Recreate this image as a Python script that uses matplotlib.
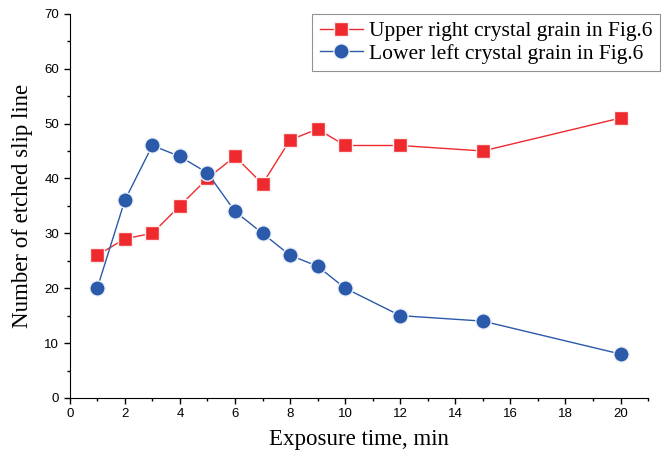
import matplotlib.pyplot as plt
from matplotlib.ticker import MultipleLocator

# exposure time (min)
tiempo = [1, 2, 3, 4, 5, 6, 7, 8, 9, 10, 12, 15, 20]
superior = [26, 29, 30, 35, 40, 44, 39, 47, 49, 46, 46, 45, 51]
inferior = [20, 36, 46, 44, 41, 34, 30, 26, 24, 20, 15, 14, 8]

rojo = '#ee2a2e'
azul = '#2b5aaa'

fig = plt.figure(figsize=(6.64, 4.59), dpi=100)
ax = fig.add_axes([0.105, 0.133, 0.871, 0.837])

ax.plot(tiempo, superior, '-s', color=rojo, lw=1, ms=10, mec='#fdeeee', mew=1.0,
        label='Upper right crystal grain in Fig.6')
ax.plot(tiempo, inferior, '-o', color=azul, lw=1, ms=11, mec='#eef2f9', mew=1.0,
        label='Lower left crystal grain in Fig.6')

ax.set_xlim(0, 21)
ax.set_ylim(0, 70)
ax.xaxis.set_major_locator(MultipleLocator(2))
ax.xaxis.set_minor_locator(MultipleLocator(1))
ax.yaxis.set_major_locator(MultipleLocator(10))
ax.yaxis.set_minor_locator(MultipleLocator(5))
ax.spines['top'].set_visible(False)
ax.spines['right'].set_visible(False)
ax.tick_params(which='both', direction='out', labelsize=9.5, width=1)
ax.tick_params(which='major', length=4)
ax.tick_params(which='minor', length=2.5)
for t in ax.get_xticklabels() + ax.get_yticklabels():
    t.set_family('Liberation Sans')

ax.set_xlabel('Exposure time, min', family='Liberation Serif', fontsize=16.5, labelpad=6)
ax.set_ylabel('Number of etched slip line', family='Liberation Serif', fontsize=16.5,
              labelpad=8)

leg = fig.legend(loc='upper right', bbox_to_anchor=(0.994, 0.97), borderaxespad=0,
                 prop={'family': 'Liberation Serif', 'size': 15.5},
                 fancybox=False, edgecolor='#777777', handlelength=2.0,
                 handletextpad=0.3, borderpad=0.35, labelspacing=0.1, markerscale=1.0)
leg.get_frame().set_linewidth(0.8)

fig.savefig('out.png', dpi=100)
